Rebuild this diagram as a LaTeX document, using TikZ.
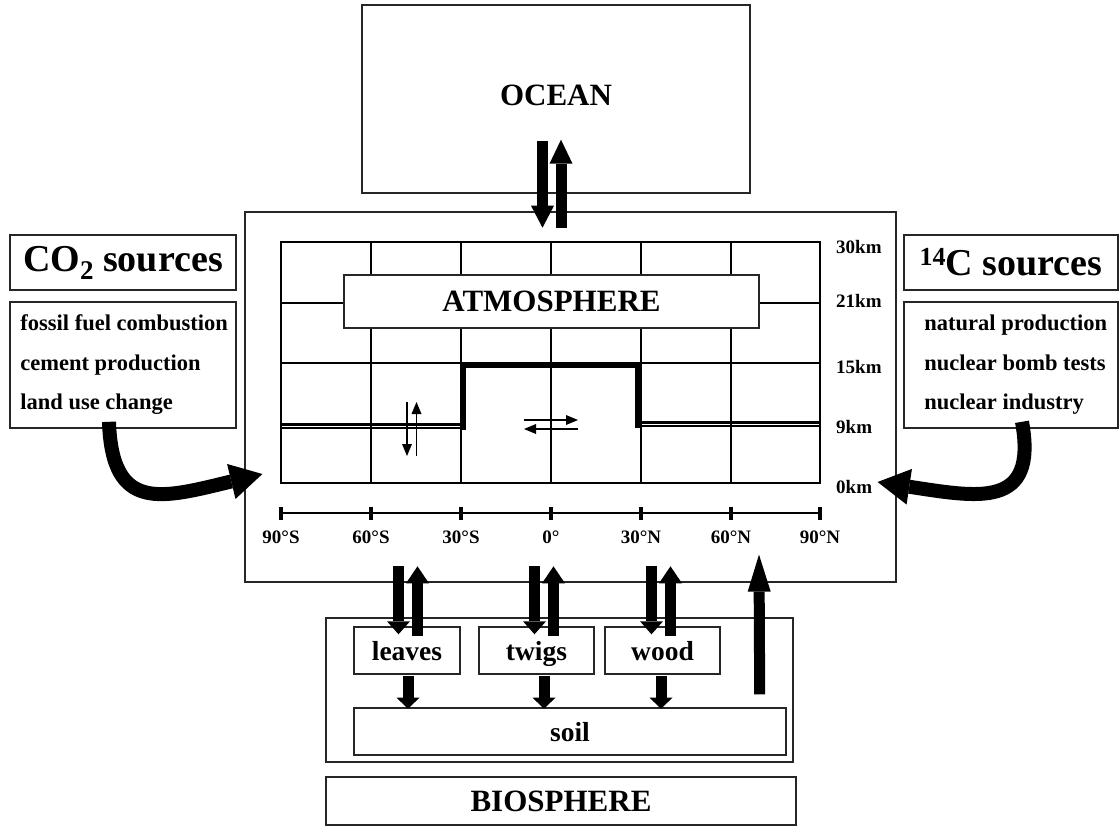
\documentclass[tikz,border=0pt]{standalone}
\usepackage{fontspec}
\setmainfont{Liberation Serif}
\usepackage{tikz}
\usetikzlibrary{positioning,arrows.meta,calc}
\tikzset{
  cc/.style={align=center, inner sep=0pt, font=\bfseries},
  cc box/.style={cc, draw=black!85, line width=1.4pt, fill=white},
  cc big/.style={font=\fontsize{31}{34}\selectfont\bfseries},
  cc head/.style={cc box, line width=2.2pt, font=\fontsize{38}{40}\selectfont\bfseries},
  cc item/.style={cc, align=left, anchor=west, font=\fontsize{22.5}{39.5}\selectfont\bfseries},
  cc pool/.style={cc box, text height=21pt, text depth=2pt, font=\fontsize{27.5}{30}\selectfont\bfseries},
  cc lab/.style={cc, font=\fontsize{19}{21}\selectfont\bfseries},
  cc grid/.style={line width=2.6pt, line cap=rect},
  cc trop/.style={line width=5pt},
  cc dbl/.style={line width=2.8pt, double, double distance=1pt},
  cc fat/.style={line width=11pt, -{Triangle[width=23pt, length=#1, line width=0pt]}},
  cc fat/.default=22pt,
  cc small/.style={line width=1.7pt, -{Triangle[width=10pt, length=12pt, line width=0pt]}},
  cc bend/.style={line width=14pt, -{Triangle[width=36pt, length=32pt, line width=0pt]}},
}

\begin{document}
\begin{tikzpicture}[x=1pt, y=-1pt]
  \useasboundingbox (0,0) rectangle (1120,827);
  % ocean on top, atmosphere frame in the middle
  \node[cc box, cc big, text depth=8pt, minimum width=388pt, minimum height=188pt] (ocean) at (556,99) {OCEAN};
  \node[cc box, line width=1.2pt, minimum width=651pt, minimum height=370pt] (atm) at (570.5,397) {};
  % tropopause: low at the poles, high in the tropics
  \draw[cc dbl] (281,426) -- (461,426);
  \draw[cc dbl] (640,424) -- (820,424);
  \draw[cc trop] (463.5,429.5) -- (463.5,365.5) -- (637.5,365.5) -- (637.5,427.5);
  % the box grid
  \foreach \y in {242,303,363,483} \draw[cc grid] (281,\y) -- (820,\y);
  \foreach \x in {281,371,461,551,641,731,820} \draw[cc grid] (\x,242) -- (\x,483);
  \node[cc box, cc big, line width=2pt, minimum width=415pt, minimum height=53pt] (atmlab) at (551.5,301.5) {ATMOSPHERE};
  % mixing inside the cells
  \coordinate (cellS) at (411.5,429);
  \coordinate (cellE) at (551,424.5);
  \draw[cc small] ($(cellS)+(-4.5,-27)$) -- ($(cellS)+(-4.5,27)$);
  \draw[cc small] ($(cellS)+(5,27)$) -- ($(cellS)+(5,-27)$);
  \draw[cc small] ($(cellE)+(-27,-4.5)$) -- ($(cellE)+(27,-4.5)$);
  \draw[cc small] ($(cellE)+(27,4.5)$) -- ($(cellE)+(-27,4.5)$);
  % latitude axis and heights
  \draw[line width=1.5pt] (281,513) -- (820,513);
  \foreach \x/\l in {281/90°S, 371/60°S, 461/30°S, 551/0°, 641/30°N, 731/60°N, 820/90°N} {
    \draw[line width=3.5pt] (\x,507) -- (\x,520);
    \node[cc lab] (lat\x) at (\x,537) {\l};
  }
  \foreach \k/\y in {30/247, 21/301, 15/367, 9/427, 0/487}
    \node[cc lab, anchor=west] (km\k) at (836,\y) {\k km};
  % sources on both sides
  \node[cc head, minimum width=226pt, minimum height=55pt] (co2) at (123,262.5)
    {CO\raisebox{-8pt}{\fontsize{27}{27}\selectfont 2} sources};
  \node[cc box, line width=1.6pt, minimum width=226pt, minimum height=126pt] (co2list) at (123,365) {};
  \node[cc item] (co2text) at ($(co2list.west)+(11,0)$) {fossil fuel combustion\\cement production\\land use change};
  \node[cc head, minimum width=214pt, minimum height=55pt] (c14) at (1011,262.5)
    {\raisebox{10pt}{\fontsize{26}{26}\selectfont 14}C sources};
  \node[cc box, line width=1.6pt, minimum width=214pt, minimum height=126pt] (c14list) at (1011,365) {};
  \node[cc item] (c14text) at ($(c14list.west)+(21,0)$) {natural production\\nuclear bomb tests\\nuclear industry};
  \draw[cc bend] ($(co2list.south)+(-14,-7)$) .. controls +(3,92) and +(-100,24) .. ($(atm.west)+(18,77)$);
  \draw[cc bend] ($(c14list.south)+(11,-7)$) .. controls +(16,88) and +(100,15) .. ($(atm.east)+(-19,85)$);
  % air-sea exchange
  \draw[cc fat] ($(ocean.south)+(-13.5,-53)$) -- ($(ocean.south)+(-13.5,34)$);
  \draw[cc fat=24pt] ($(ocean.south)+(5,34)$) -- ($(ocean.south)+(5,-54)$);
  % biosphere pools
  \node[cc box, minimum width=467pt, minimum height=144pt] (bio) at (559.5,690) {};
  \node[cc pool, minimum width=106pt, minimum height=47pt] (leaves) at (407,650.5) {leaves};
  \node[cc pool, minimum width=115pt, minimum height=47pt] (twigs) at (536.5,650.5) {twigs};
  \node[cc pool, minimum width=115pt, minimum height=47pt] (wood) at (662.5,650.5) {wood};
  \node[cc pool, minimum width=432pt, minimum height=47pt] (soil) at (570,731.5) {soil};
  \node[cc box, cc big, minimum width=470pt, minimum height=48pt] (bioname) at (561,801) {BIOSPHERE};
  \foreach \b/\d in {leaves/1, twigs/7.5, wood/-1.5} {
    \draw[cc fat=13pt] ($(\b.north)+(\d-9.5,-60)$) -- ($(\b.north)+(\d-9.5,8)$);
    \draw[cc fat=17pt] ($(\b.north)+(\d+9.5,10)$) -- ($(\b.north)+(\d+9.5,-60)$);
    \draw[cc fat=11pt] ($(\b.south)+(\d,1)$) -- ($(\b.south)+(\d,34)$);
  }
  \draw[cc fat=37pt] ($(bio.north east)+(-34,77)$) -- ($(atm.south)+(188.5,-28)$);
\end{tikzpicture}
\end{document}
